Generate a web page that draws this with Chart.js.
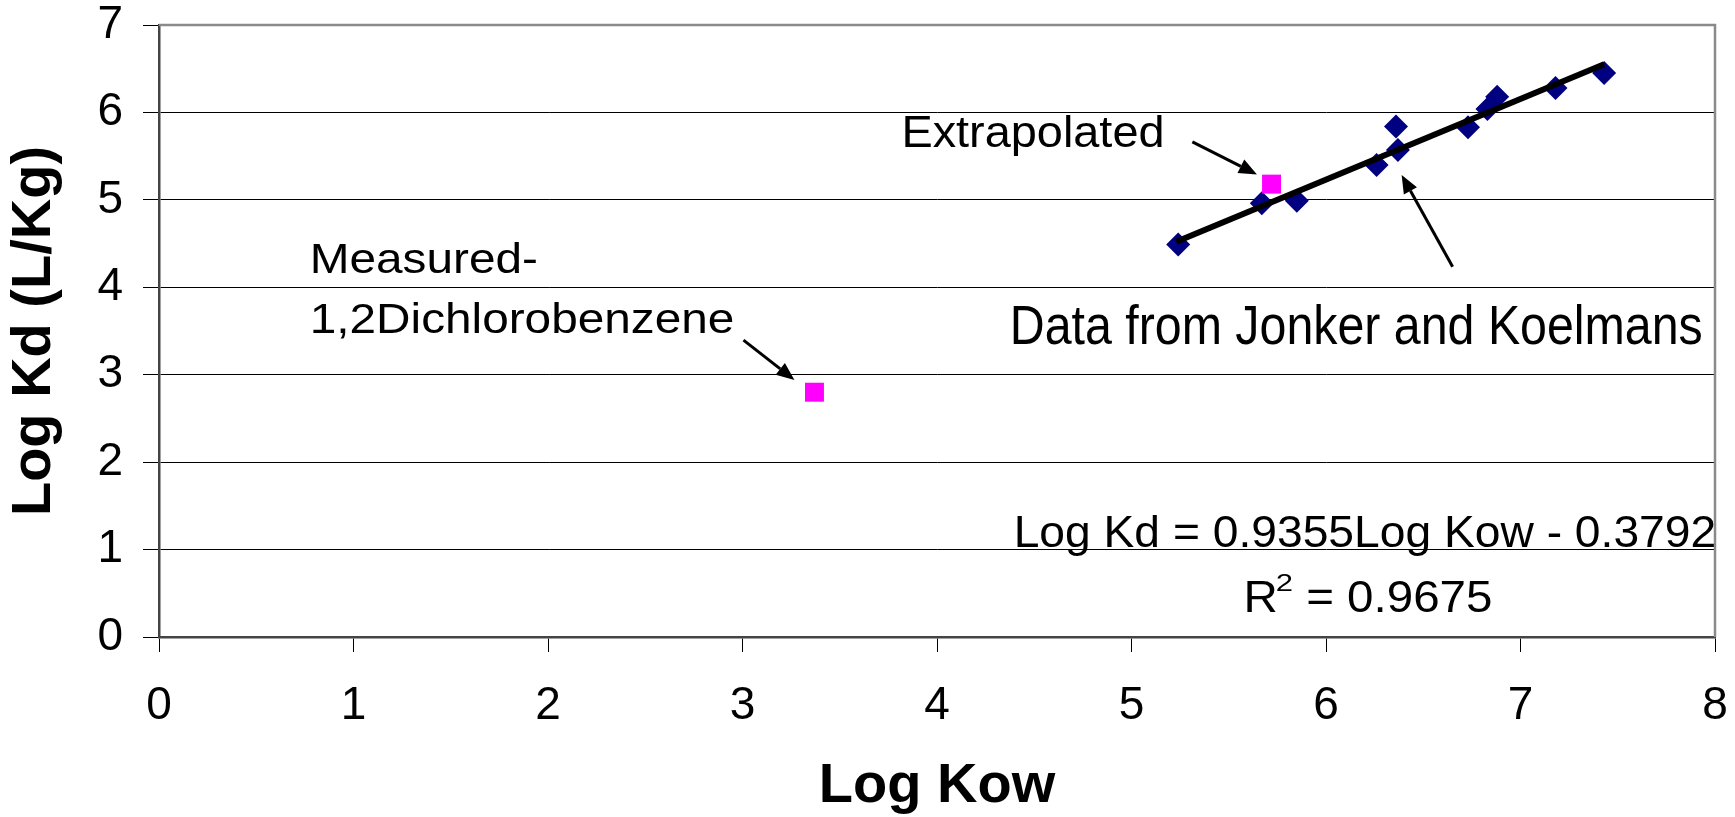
<!DOCTYPE html>
<html>
<head>
<meta charset="utf-8">
<script src="https://cdn.jsdelivr.net/npm/chart.js@4.4.0/dist/chart.umd.min.js"></script>
<style>
html,body{margin:0;padding:0;background:#ffffff;}
#c{display:block;}
</style>
</head>
<body>
<canvas id="c" width="1735" height="817"></canvas>
<script>
// ---- data ----
const jonkerKow = [5.24, 5.67, 5.85, 6.26, 6.36, 6.37, 6.73, 6.83, 6.88, 7.18, 7.43];
const jonkerKd  = [4.49, 4.96, 4.99, 5.40, 5.84, 5.57, 5.83, 6.04, 6.18, 6.28, 6.45];
const extrapolatedKow = [5.72];
const extrapolatedKd  = [5.18];
const measuredKow = [3.37];
const measuredKd  = [2.80];
const trendKow = [5.23, 7.43];
const trendKd  = [4.52, 6.55];
const xTickValues = [0, 1, 2, 3, 4, 5, 6, 7, 8];
const yTickValues = [0, 1, 2, 3, 4, 5, 6, 7];
const xTitle = 'Log Kow';
const yTitle = 'Log Kd (L/Kg)';

const FONT = '"Liberation Sans", Arial, Helvetica, sans-serif';

function pts(xs, ys) { return xs.map((x, i) => ({x: x, y: ys[i]})); }

// annotations in data coordinates
const labels = [
  {text: 'Extrapolated', x: 3.817, y: 5.607, size: 44, sx: 1.065},
  {text: 'Measured-', x: 0.775, y: 4.166, size: 43, sx: 1.11},
  {text: '1,2Dichlorobenzene', x: 0.775, y: 3.473, size: 43, sx: 1.11},
  {text: 'Data from Jonker and Koelmans', x: 4.374, y: 3.350, size: 56, sx: 0.863},
  {text: 'Log Kd = 0.9355Log Kow - 0.3792', x: 4.394, y: 1.033, size: 44, sx: 1.05}
];
const rSquared = {x: 5.576, y: 0.289, value: ' = 0.9675'};
const arrows = [
  {x1: 5.313, y1: 5.664, x2: 5.645, y2: 5.291},
  {x1: 3.005, y1: 3.396, x2: 3.267, y2: 2.939},
  {x1: 6.651, y1: 4.234, x2: 6.389, y2: 5.283}
];

const annotationPlugin = {
  id: 'annot',
  afterDraw(chart) {
    const ctx = chart.ctx;
    const xs = chart.scales.x, ys = chart.scales.y;
    const a = chart.chartArea;
    ctx.save();
    // top and right frame
    ctx.strokeStyle = '#8a8a8a';
    ctx.lineWidth = 2.5;
    ctx.beginPath();
    ctx.moveTo(a.left, a.top);
    ctx.lineTo(a.right, a.top);
    ctx.lineTo(a.right, a.bottom);
    ctx.stroke();

    // text labels
    ctx.fillStyle = '#000';
    ctx.textAlign = 'left';
    ctx.textBaseline = 'alphabetic';
    labels.forEach(l => {
      const px = xs.getPixelForValue(l.x), py = ys.getPixelForValue(l.y);
      ctx.save();
      ctx.translate(px, py);
      ctx.scale(l.sx, 1);
      ctx.font = l.size + 'px ' + FONT;
      ctx.fillText(l.text, 0, 0);
      ctx.restore();
    });
    // R^2 label
    {
      const px = xs.getPixelForValue(rSquared.x), py = ys.getPixelForValue(rSquared.y);
      ctx.save();
      ctx.translate(px, py);
      ctx.scale(1.08, 1);
      ctx.font = '44px ' + FONT;
      ctx.fillText('R', 0, 0);
      const rw = ctx.measureText('R').width;
      ctx.font = '23px ' + FONT;
      ctx.save();
      ctx.translate(rw - 2, -21);
      ctx.scale(1.25, 1);
      ctx.fillText('2', 0, 0);
      const sw = ctx.measureText('2').width * 1.25;
      ctx.restore();
      ctx.font = '44px ' + FONT;
      ctx.fillText(rSquared.value, rw - 2 + sw, 0);
      ctx.restore();
    }
    // arrows
    ctx.strokeStyle = '#000';
    ctx.fillStyle = '#000';
    arrows.forEach(ar => {
      const x1 = xs.getPixelForValue(ar.x1), y1 = ys.getPixelForValue(ar.y1);
      const x2 = xs.getPixelForValue(ar.x2), y2 = ys.getPixelForValue(ar.y2);
      const ang = Math.atan2(y2 - y1, x2 - x1);
      const hl = 18, hw = 7.5;
      const bx = x2 - hl * Math.cos(ang), by = y2 - hl * Math.sin(ang);
      ctx.lineWidth = 3;
      ctx.beginPath();
      ctx.moveTo(x1, y1);
      ctx.lineTo(bx, by);
      ctx.stroke();
      ctx.beginPath();
      ctx.moveTo(x2, y2);
      ctx.lineTo(bx + hw * Math.sin(ang), by - hw * Math.cos(ang));
      ctx.lineTo(bx - hw * Math.sin(ang), by + hw * Math.cos(ang));
      ctx.closePath();
      ctx.fill();
    });
    ctx.restore();
  }
};

new Chart(document.getElementById('c'), {
  type: 'scatter',
  data: {
    datasets: [
      {
        label: 'Trend',
        data: pts(trendKow, trendKd),
        showLine: true,
        borderColor: '#000000',
        borderWidth: 6,
        pointRadius: 0,
        pointHoverRadius: 0,
        fill: false
      },
      {
        label: 'Extrapolated',
        data: pts(extrapolatedKow, extrapolatedKd),
        pointStyle: 'rect',
        pointRadius: 13.4,
        backgroundColor: '#FF00FF',
        borderWidth: 0
      },
      {
        label: 'Measured',
        data: pts(measuredKow, measuredKd),
        pointStyle: 'rect',
        pointRadius: 13.4,
        backgroundColor: '#FF00FF',
        borderWidth: 0
      },
      {
        label: 'Jonker and Koelmans',
        data: pts(jonkerKow, jonkerKd),
        pointStyle: 'rectRot',
        pointRadius: 12,
        backgroundColor: '#000080',
        borderWidth: 0
      }
    ]
  },
  options: {
    responsive: false,
    animation: false,
    devicePixelRatio: 1,
    layout: {autoPadding: false, padding: {top: 25, right: 20, left: 0, bottom: 0}},
    plugins: {legend: {display: false}, tooltip: {enabled: false}},
    scales: {
      x: {
        type: 'linear',
        min: 0, max: 8,
        afterBuildTicks: s => { s.ticks = xTickValues.map(v => ({value: v})); },
        afterFit: s => { s.height = 180; s.paddingLeft = 0; s.paddingRight = 0; },
        ticks: {
          color: '#000',
          font: {family: FONT, size: 46, lineHeight: 1},
          padding: 31,
          maxRotation: 0,
          autoSkip: false
        },
        grid: {drawOnChartArea: false, drawTicks: true, tickLength: 15, color: '#000', lineWidth: 1},
        border: {display: true, color: '#444444', width: 2.5},
        title: {display: true, text: xTitle, color: '#000',
                font: {family: FONT, size: 56, weight: 'bold', lineHeight: 1.05},
                padding: {top: 0, bottom: 1}}
      },
      y: {
        type: 'linear',
        min: 0, max: 7,
        afterBuildTicks: s => { s.ticks = yTickValues.map(v => ({value: v})); },
        afterFit: s => { s.width = 159; s.paddingTop = 0; s.paddingBottom = 0; },
        ticks: {
          color: '#000',
          font: {family: FONT, size: 46, lineHeight: 1},
          padding: 20
        },
        grid: {drawOnChartArea: true, drawTicks: true, tickLength: 16, color: '#000', lineWidth: 1},
        border: {display: true, color: '#444444', width: 2.5},
        title: {display: true, text: yTitle, color: '#000',
                font: {family: FONT, size: 56, weight: 'bold', lineHeight: 1.2},
                padding: {top: 1, bottom: 0}}
      }
    }
  },
  plugins: [annotationPlugin]
});
</script>
</body>
</html>
